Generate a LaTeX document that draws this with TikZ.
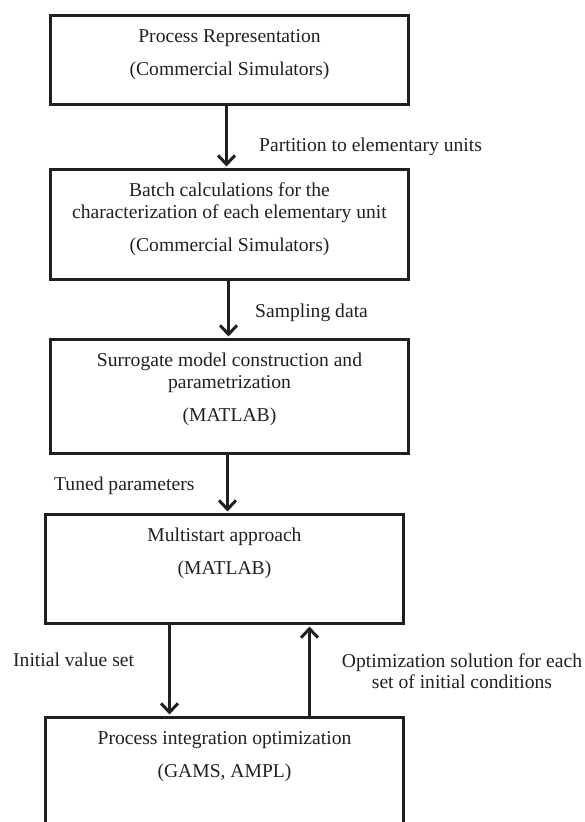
\documentclass[tikz,border=0pt]{standalone}
\usepackage{fontspec}
\setmainfont{Liberation Serif}
\usetikzlibrary{arrows.meta}
\definecolor{ink}{HTML}{231F20}

% box text: height, upper lines, tool line
\newcommand{\stagetext}[3]{\parbox[c][#1][t]{358pt}{\centering\vspace*{13pt}\rule{0pt}{14pt}#2\\[11.5pt]#3}}

\begin{document}
\begin{tikzpicture}[x=1pt,y=-1pt,
  font=\fontsize{19.6}{21.5}\selectfont,
  stage/.style={draw=ink,line width=3pt,inner sep=0pt,anchor=north west,text=ink},
  flow/.style={draw=ink,line width=3pt,shorten >=1.5pt,-{Straight Barb[length=9pt,width=17pt]}},
  note/.style={inner sep=0pt,anchor=base west,text=ink}]

% Page frame
\useasboundingbox (0,0) rectangle (585,822);
\clip (0,0) rectangle (585,822);

% Stages
\node[stage] (repr) at (49,14) {\stagetext{89pt}{Process Representation}{(Commercial Simulators)}};
\node[stage] (batch) at (49,168) {\stagetext{110pt}{Batch calculations for the\\characterization of each elementary unit}{(Commercial Simulators)}};
\node[stage] (surr) at (49,338) {\stagetext{114pt}{Surrogate model construction and\\parametrization}{(MATLAB)}};
\node[stage] (multi) at (44,513) {\stagetext{109pt}{Multistart approach}{(MATLAB)}};
\node[stage] (optim) at (44,716) {\stagetext{140pt}{Process integration optimization}{(GAMS, AMPL)}};

% Flow between stages
\draw[flow] ([xshift=-3pt]repr.south) -- ([xshift=-3pt]batch.north);
\draw[flow] ([xshift=-1pt]batch.south) -- ([xshift=-1pt]surr.north);
\draw[flow] ([xshift=-2pt]surr.south) -- ([xshift=3pt]multi.north);
\draw[flow] ([xshift=-55pt]multi.south) -- ([xshift=-55pt]optim.north);
\draw[flow] ([xshift=85pt]optim.north) -- ([xshift=85pt]multi.south);

% Labels on the flow
\node[note] (partlbl) at (259,151) {Partition to elementary units};
\node[note] (samplbl) at (255,317) {Sampling data};
\node[note] (tunelbl) at (54,490) {Tuned parameters};
\node[note] (initlbl) at (13,666) {Initial value set};
\node[note,align=center,anchor=north] (sollbl) at (462,653) {Optimization solution for each\\set of initial conditions};

\end{tikzpicture}
\end{document}
